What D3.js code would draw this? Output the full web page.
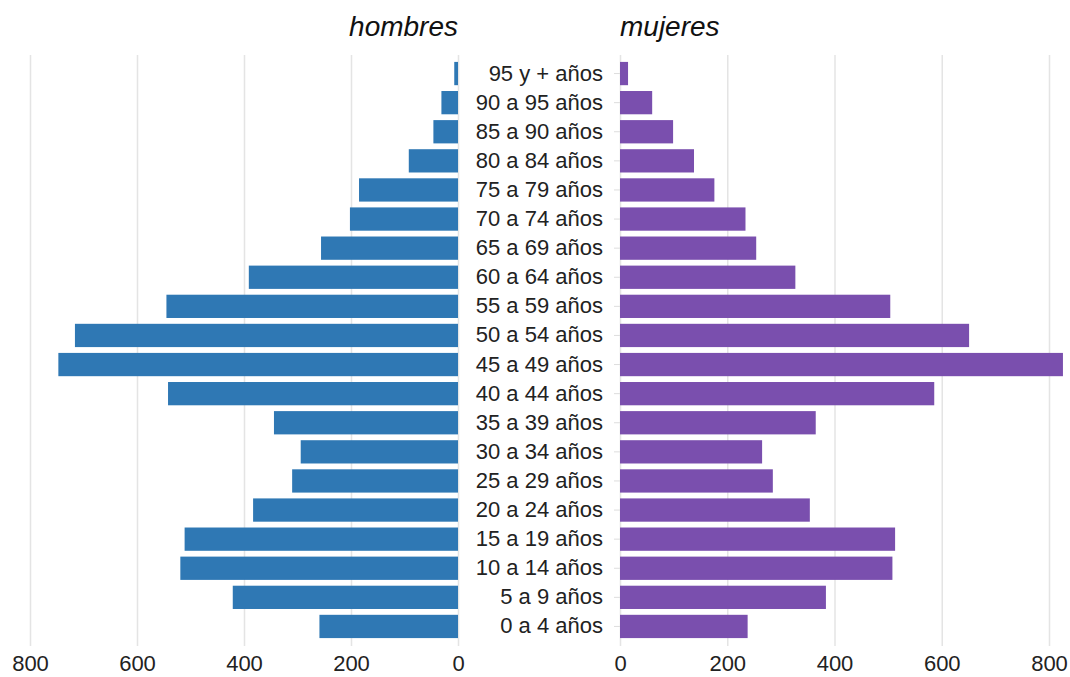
<!DOCTYPE html>
<html>
<head>
<meta charset="utf-8">
<script src="https://cdn.jsdelivr.net/npm/d3@7"></script>
<style>
  body { margin: 0; background: #fff; font-family: "Liberation Sans", Arial, sans-serif; }
  .grid line { stroke: #e4e4e4; stroke-width: 1.5; }
  .grid .domain { display: none; }
  .grid text { font-size: 22px; fill: #222; }
  .ages line { stroke: #ddd; }
  .ages .domain { display: none; }
  .ages text { font-size: 22px; fill: #222; }
</style>
</head>
<body>
<div id="chart"></div>
<script>
// age groups, oldest on top
const ageGroups = ["95 y + años", "90 a 95 años", "85 a 90 años", "80 a 84 años", "75 a 79 años",
  "70 a 74 años", "65 a 69 años", "60 a 64 años", "55 a 59 años", "50 a 54 años",
  "45 a 49 años", "40 a 44 años", "35 a 39 años", "30 a 34 años", "25 a 29 años",
  "20 a 24 años", "15 a 19 años", "10 a 14 años", "5 a 9 años", "0 a 4 años"];

const hombres = [7, 31, 46, 92, 185, 202, 256, 391, 545, 716, 747, 542, 344, 294, 310, 383, 511, 519, 421, 259];
const mujeres = [15, 60, 99, 138, 176, 234, 254, 327, 504, 651, 826, 586, 365, 265, 285, 354, 513, 508, 384, 238];

const xTicks = [0, 200, 400, 600, 800];

const W = 1070, H = 677;
const gridTop = 55, gridBottom = 646;

const svg = d3.select("#chart").append("svg")
  .attr("width", W)
  .attr("height", H);

// scales
const y = d3.scaleBand()
  .domain(ageGroups)
  .range([59, 641])
  .paddingInner(0.2)
  .paddingOuter(0.1);

const xLeft = d3.scaleLinear().domain([0, 800]).range([458, 30]);
const xRight = d3.scaleLinear().domain([0, 800]).range([620, 1049]);

// gridlines + bottom ticks
svg.append("g")
  .attr("class", "grid")
  .attr("transform", `translate(0,${gridBottom})`)
  .call(d3.axisBottom(xLeft).tickValues(xTicks).tickSize(-(gridBottom - gridTop)).tickPadding(9));

svg.append("g")
  .attr("class", "grid")
  .attr("transform", `translate(0,${gridBottom})`)
  .call(d3.axisBottom(xRight).tickValues(xTicks).tickSize(-(gridBottom - gridTop)).tickPadding(9));

// bars
svg.selectAll("rect.h")
  .data(hombres)
  .enter()
  .append("rect")
  .attr("class", "h")
  .attr("x", d => xLeft(d))
  .attr("y", (d, i) => y(ageGroups[i]))
  .attr("width", d => xLeft(0) - xLeft(d))
  .attr("height", y.bandwidth())
  .style("fill", "#2f78b4");

svg.selectAll("rect.m")
  .data(mujeres)
  .enter()
  .append("rect")
  .attr("class", "m")
  .attr("x", xRight(0))
  .attr("y", (d, i) => y(ageGroups[i]))
  .attr("width", d => xRight(d) - xRight(0))
  .attr("height", y.bandwidth())
  .style("fill", "#7a4fae");

// age labels in the middle
svg.append("g")
  .attr("class", "ages")
  .attr("transform", `translate(${xRight(0)},0)`)
  .call(d3.axisLeft(y).tickSizeInner(6).tickSizeOuter(0).tickPadding(11));

// titles
svg.append("text")
  .attr("x", xLeft(0))
  .attr("y", 36)
  .attr("text-anchor", "end")
  .style("font-size", "28px")
  .style("font-style", "italic")
  .style("fill", "#111")
  .text("hombres");

svg.append("text")
  .attr("x", xRight(0))
  .attr("y", 36)
  .attr("text-anchor", "start")
  .style("font-size", "28px")
  .style("font-style", "italic")
  .style("fill", "#111")
  .text("mujeres");
</script>
</body>
</html>
